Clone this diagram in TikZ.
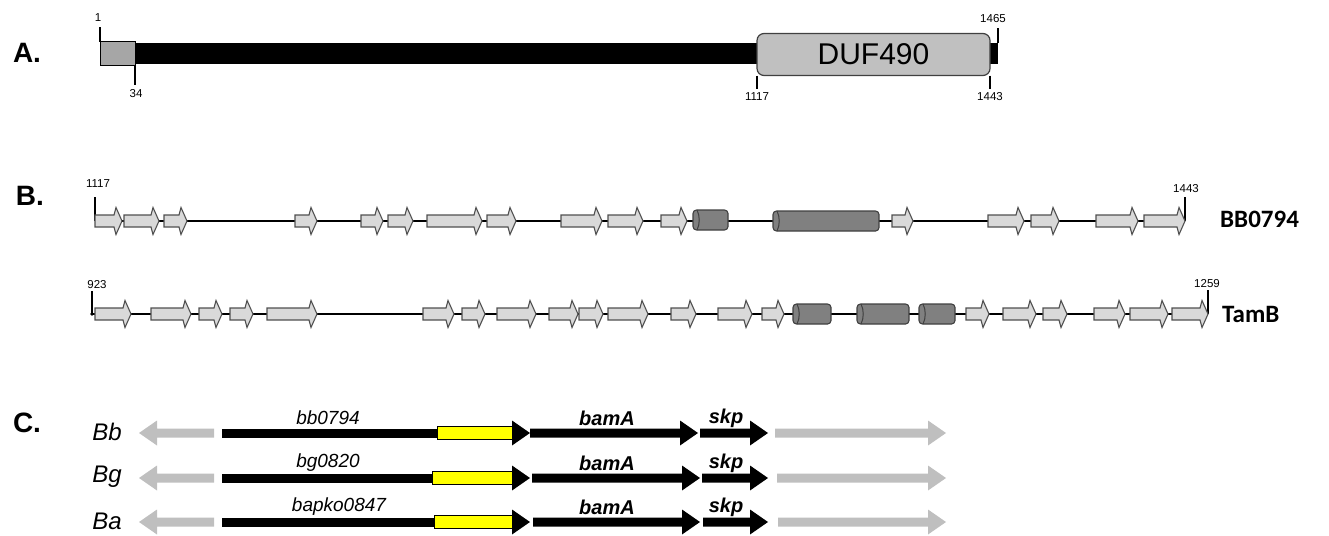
\documentclass[tikz,border=0pt]{standalone}
\usepackage{fontspec}
\setmainfont{Liberation Sans}
\newfontfamily\calib{Carlito}
\definecolor{orffill}{HTML}{D9D9D9}
\definecolor{orfedge}{HTML}{505050}
\definecolor{barrelfill}{HTML}{808080}
\definecolor{barreledge}{HTML}{404040}
\definecolor{sigfill}{HTML}{A6A6A6}
\definecolor{domfill}{HTML}{C0C0C0}
\definecolor{flankgray}{HTML}{BFBFBF}
\definecolor{genyellow}{HTML}{FFFF00}

\tikzset{
  panel/.style={font=\fontsize{28}{30}\selectfont\bfseries},
  poslabel/.style={font=\fontsize{11.5}{12}\selectfont, inner sep=0pt},
  tickline/.style={black, line width=1.3pt},
  orfstyle/.style={fill=orffill, draw=orfedge, line width=1.1pt, line join=miter},
  barrelstyle/.style={fill=barrelfill, draw=barreledge, line width=1.1pt},
  backbone/.style={black, line width=2.4pt},
  protname/.style={font=\calib\fontsize{25}{27}\selectfont\bfseries, anchor=west, inner sep=0pt},
  species/.style={font=\fontsize{24}{26}\selectfont\itshape, inner sep=0pt},
  locus/.style={font=\fontsize{19}{21}\selectfont\itshape, inner sep=0pt},
  genename/.style={font=\fontsize{20}{22}\selectfont\bfseries\itshape, inner sep=0pt},
}

% light grey ORF arrow: start x, end x, centre y
\newcommand\orf[3]{%
  \draw[orfstyle] (#1,{#3-6}) -- ({#2-8},{#3-6}) -- ({#2-6},{#3-13.5}) -- (#2,#3)
    -- ({#2-6},{#3+13.5}) -- ({#2-8},{#3+6}) -- (#1,{#3+6}) -- cycle;}
% dark grey barrel (helical segment): start x, end x, centre y
\newcommand\barrel[3]{%
  \draw[barrelstyle, rounded corners=3.5pt] (#1,{#3-10}) rectangle (#2,{#3+10});
  \draw[barreledge, line width=1pt] ({#1+4},{#3-10}) .. controls ({#1+7},{#3-4}) and ({#1+7},{#3+4}) .. ({#1+4},{#3+10});}
% rightward gene arrow: start x, end x, centre y, colour
\newcommand\fwdgene[4]{%
  \fill[#4] (#1,{#3-4.5}) -- ({#2-18},{#3-4.5}) -- ({#2-18},{#3-12.5}) -- (#2,#3)
    -- ({#2-18},{#3+12.5}) -- ({#2-18},{#3+4.5}) -- (#1,{#3+4.5}) -- cycle;}
% leftward gene arrow: tip x, tail x, centre y, colour
\newcommand\revgene[4]{%
  \fill[#4] (#2,{#3-4.5}) -- ({#1+18},{#3-4.5}) -- ({#1+18},{#3-12.5}) -- (#1,#3)
    -- ({#1+18},{#3+12.5}) -- ({#1+18},{#3+4.5}) -- (#2,{#3+4.5}) -- cycle;}

\begin{document}
\begin{tikzpicture}[x=1pt, y=-1pt]
\useasboundingbox (0,0) rectangle (1329,535);

% ---------------- A: domain architecture ----------------
\node[panel] (labA) at (27,53) {A.};
\fill[black] (135,43) rectangle (998,64);
\draw[fill=sigfill, draw=black, line width=1pt] (100,42) rectangle (135,65);
\node[draw=barreledge, fill=domfill, line width=1.2pt, rounded corners=7pt,
      minimum width=233pt, minimum height=42pt, inner sep=0pt,
      font=\fontsize{30}{32}\selectfont] (duf) at (873.5,54.5) {DUF490};
\coordinate (a1) at (100,42);   \coordinate (a1t) at (100,27);
\coordinate (a34) at (135,65);  \coordinate (a34t) at (135,85);
\coordinate (a1117) at (757,75.5); \coordinate (a1117t) at (757,89);
\coordinate (a1443) at (990,75.5); \coordinate (a1443t) at (990,89);
\coordinate (a1465) at (998,43); \coordinate (a1465t) at (998,28);
\draw[tickline] (a1) -- (a1t);
\draw[tickline] (a34) -- (a34t);
\draw[tickline] (a1117) -- (a1117t);
\draw[tickline] (a1443) -- (a1443t);
\draw[tickline] (a1465) -- (a1465t);
\node[poslabel] (p1) at (98,18) {1};
\node[poslabel] (p34) at (136,94) {34};
\node[poslabel] (p1117) at (757,97) {1117};
\node[poslabel] (p1443) at (990,97) {1443};
\node[poslabel] (p1465) at (993,19) {1465};

% ---------------- B: repeat structure of the domain ----------------
\node[panel] (labB) at (30,196) {B.};
% BB0794
\coordinate (b1s) at (95,221); \coordinate (b1e) at (1185,221);
\draw[backbone] (b1s) -- (b1e);
\draw[tickline] (b1s) -- (95,197);
\draw[tickline] (b1e) -- (1185,197);
\node[poslabel] (q1117) at (98,184) {1117};
\node[poslabel] (q1443) at (1186,189) {1443};
\foreach \a/\b in {95/122, 124/159, 164/187, 295/317, 361/383, 388/413,
                   427/482, 487/516, 561/602, 608/643, 661/687, 892/913,
                   988/1024, 1031/1059, 1096/1138, 1144/1185}
  {\orf{\a}{\b}{221}}
\barrel{693}{728}{220}
\barrel{773}{879}{221}
\node[protname] (bb) at (1220,219) {BB0794};

% TamB
\coordinate (b2s) at (92,314); \coordinate (b2e) at (1208,314);
\draw[backbone] (b2s) -- (b2e);
\fill (b2s) circle (1.8pt);
\draw[tickline] (b2s) -- (92,291);
\draw[tickline] (b2e) -- (1208,290);
\node[poslabel] (q923) at (97,285) {923};
\node[poslabel] (q1259) at (1207,284) {1259};
\foreach \a/\b in {95/131, 151/191, 199/222, 230/253, 267/317, 423/454,
                   462/485, 497/536, 549/578, 579/603, 608/648, 671/696,
                   718/752, 762/784, 966/989, 1003/1036, 1043/1067,
                   1094/1125, 1130/1168, 1172/1208}
  {\orf{\a}{\b}{314}}
\barrel{793}{831}{314}
\barrel{857}{909}{314}
\barrel{919}{955}{314}
\node[protname] (tb) at (1222,314) {TamB};

% ---------------- C: genomic neighbourhood ----------------
\node[panel] (labC) at (27,423) {C.};
\foreach \y/\sp/\loc/\lx/\ys/\xa/\xb/\xc/\xd in
   {433/Bb/bb0794/328/437/530/698/700/775,
    478/Bg/bg0820/328/432/532/700/702/777,
    522/Ba/bapko0847/339/434/533/700/703/778}
{
  \node[species] (sp\sp) at (107,{\y-1}) {\sp};
  \revgene{139}{214}{\y}{flankgray}
  \fill[black] (222,{\y-4.5}) rectangle (\ys,{\y+4.5});
  \fwdgene{\ys}{530}{\y}{black}
  \draw[fill=genyellow, draw=black, line width=1pt] (\ys,{\y-6.5}) rectangle (512,{\y+6.5});
  \fwdgene{\xa}{\xb}{\y}{black}
  \fwdgene{\xc}{768}{\y}{black}
  \fwdgene{\xd}{946}{\y}{flankgray}
  \node[locus] (loc\sp) at (\lx,{\y-15}) {\loc};
  \node[genename] (bam\sp) at (607,{\y-15}) {bamA};
  \node[genename] (skp\sp) at (726,{\y-15}) {skp};
}
\end{tikzpicture}
\end{document}
